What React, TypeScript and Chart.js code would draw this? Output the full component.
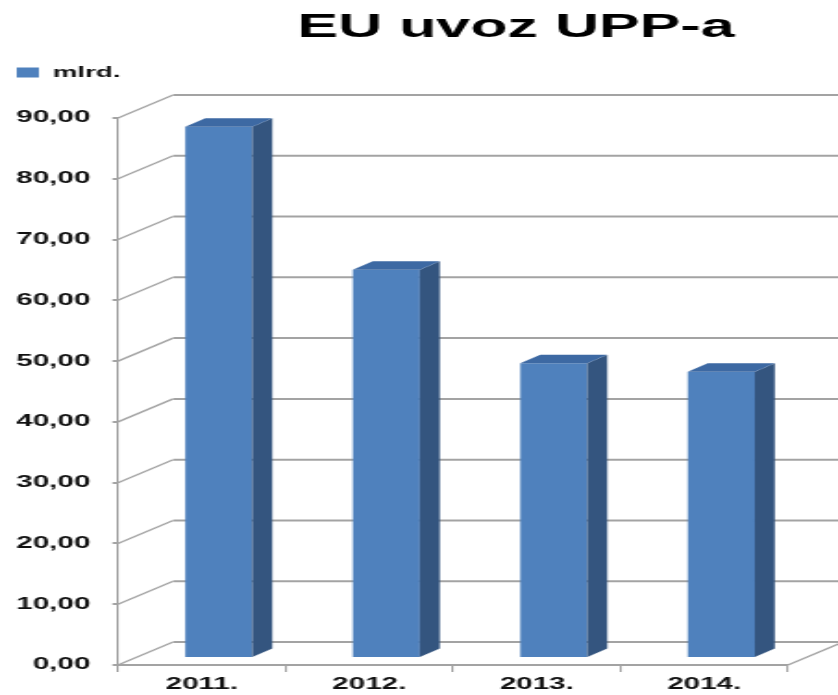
import React, { useEffect, useRef } from 'react';
import { Chart, registerables } from 'chart.js';

Chart.register(...registerables);

// ---- data ----
const TITLE = 'EU uvoz UPP-a';
const SERIES_LABEL = 'mlrd.';
const CATEGORIES = ['2011.', '2012.', '2013.', '2014.'];
const VALUES = [87.4, 63.9, 48.5, 47.1];
const Y_MIN = 0;
const Y_MAX = 90;
const Y_STEP = 10;

// ---- look ----
const OUT_W = 838;
const OUT_H = 695;
const STRETCH = 1.85; // the reference is horizontally stretched
const CW = Math.round(OUT_W / STRETCH);
const SX = OUT_W / CW;

const FONT = '"Liberation Sans", Arial, Helvetica, sans-serif';
const TEXT = '#111111';
const GRID = '#a3a3a3';
const FRONT = '#4f81bd';
const SIDE = '#34557f';
const TOPC = '#3d69a3';

const WALL_DX = 55 / SX;
const WALL_DY = -23;
const BAR_FX = 17 / SX;
const BAR_FY = -7;
const BAR_DX = 20 / SX;
const BAR_DY = -8.5;

const fmt = (v: number) => Number(v).toFixed(2).replace('.', ',');

const threeD = {
  id: 'threeD',
  beforeDatasetsDraw(chart: any) {
    const { ctx, chartArea, scales } = chart;
    const ys = scales.y;
    const L = chartArea.left;
    const R = chartArea.right;
    ctx.save();
    ctx.strokeStyle = GRID;
    ys.ticks.forEach((t: any) => {
      const py = ys.getPixelForValue(t.value);
      ctx.lineWidth = 1.3;
      ctx.beginPath();
      ctx.moveTo(L, py);
      ctx.lineTo(L + WALL_DX, py + WALL_DY);
      ctx.stroke();
      ctx.lineWidth = 2;
      ctx.beginPath();
      ctx.moveTo(L + WALL_DX, py + WALL_DY);
      ctx.lineTo(chart.width + 4, py + WALL_DY);
      ctx.stroke();
    });
    const y0 = ys.getPixelForValue(Y_MIN);
    ctx.lineWidth = 1.3;
    ctx.beginPath();
    ctx.moveTo(R, y0);
    ctx.lineTo(R + WALL_DX, y0 + WALL_DY);
    ctx.stroke();
    ctx.restore();
    ctx.save();
    ctx.translate(BAR_FX, BAR_FY);
  },
  afterDatasetsDraw(chart: any) {
    const { ctx } = chart;
    ctx.restore();
    const meta = chart.getDatasetMeta(0);
    meta.data.forEach((el: any) => {
      const { x, y, base, width } = el.getProps(['x', 'y', 'base', 'width'], true);
      const l = x - width / 2 + BAR_FX;
      const r = x + width / 2 + BAR_FX;
      const t = y + BAR_FY;
      const b = base + BAR_FY;
      ctx.save();
      ctx.fillStyle = SIDE;
      ctx.beginPath();
      ctx.moveTo(r, t);
      ctx.lineTo(r + BAR_DX, t + BAR_DY);
      ctx.lineTo(r + BAR_DX, b + BAR_DY);
      ctx.lineTo(r, b);
      ctx.closePath();
      ctx.fill();
      ctx.fillStyle = TOPC;
      ctx.beginPath();
      ctx.moveTo(l, t);
      ctx.lineTo(l + BAR_DX, t + BAR_DY);
      ctx.lineTo(r + BAR_DX, t + BAR_DY);
      ctx.lineTo(r, t);
      ctx.closePath();
      ctx.fill();
      ctx.restore();
    });
  },
  afterDraw(chart: any) {
    const { ctx } = chart;
    ctx.save();
    ctx.fillStyle = '#000000';
    ctx.font = `bold 33px ${FONT}`;
    ctx.textAlign = 'center';
    ctx.textBaseline = 'middle';
    ctx.fillText(TITLE, 516 / SX, 28);
    ctx.restore();
  },
};

export default function App() {
  const ref = useRef<HTMLCanvasElement>(null);
  useEffect(() => {
    document.body.style.margin = '0';
    const chart = new Chart(ref.current as HTMLCanvasElement, {
      type: 'bar',
      data: {
        labels: CATEGORIES,
        datasets: [
          {
            label: SERIES_LABEL,
            data: VALUES,
            backgroundColor: FRONT,
            borderWidth: 0,
            barPercentage: 0.4,
            categoryPercentage: 1,
            clip: false as any,
          },
        ],
      },
      options: {
        responsive: false,
        animation: false,
        devicePixelRatio: 1,
        layout: { padding: { top: 56, left: 0, right: CW - 788 / SX, bottom: 0 } },
        plugins: {
          title: { display: false },
          tooltip: { enabled: false },
          legend: {
            display: true,
            position: 'top',
            align: 'start',
            labels: {
              boxWidth: 12,
              boxHeight: 10,
              padding: 9,
              color: TEXT,
              font: { family: FONT, size: 15, weight: 'bold' },
            },
          },
        },
        scales: {
          x: {
            grid: {
              display: true,
              drawOnChartArea: false,
              drawTicks: true,
              tickLength: 7,
              color: GRID,
              lineWidth: 1.1,
              offset: true,
            },
            border: { display: true, color: GRID, width: 2 },
            ticks: {
              color: TEXT,
              padding: 3,
              font: { family: FONT, size: 16, weight: 'bold' },
            },
            afterFit: (s: any) => {
              s.height = 30;
            },
          },
          // empty top band that keeps the back wall's room between legend and plot
          depthBand: {
            type: 'category',
            position: 'top',
            display: true,
            grid: { display: false },
            border: { display: false },
            ticks: { display: false },
            afterFit: (s: any) => {
              s.height = 28;
            },
          },
          y: {
            min: Y_MIN,
            max: Y_MAX,
            grid: {
              display: true,
              drawOnChartArea: false,
              drawTicks: true,
              tickLength: 3,
              color: GRID,
              lineWidth: 2,
            },
            border: { display: true, color: GRID, width: 1.1 },
            ticks: {
              stepSize: Y_STEP,
              color: TEXT,
              padding: 12,
              font: { family: FONT, size: 16, weight: 'bold' },
              callback: (v: any) => fmt(v),
            },
            afterFit: (s: any) => {
              s.width = 118 / SX;
            },
          },
        },
      },
      plugins: [threeD],
    });
    return () => chart.destroy();
  }, []);
  return (
    <canvas
      ref={ref}
      width={CW}
      height={OUT_H}
      style={{ display: 'block', width: OUT_W + 'px', height: OUT_H + 'px' }}
    />
  );
}
